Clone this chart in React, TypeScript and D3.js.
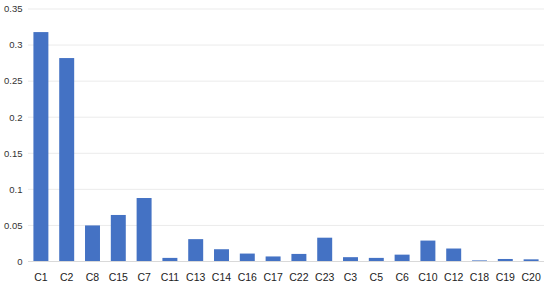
import React from 'react';
import * as d3 from 'd3';

const categories = ['C1', 'C2', 'C8', 'C15', 'C7', 'C11', 'C13', 'C14', 'C16', 'C17',
  'C22', 'C23', 'C3', 'C5', 'C6', 'C10', 'C12', 'C18', 'C19', 'C20'];
const values = [0.318, 0.282, 0.05, 0.0645, 0.088, 0.005, 0.031, 0.017, 0.011, 0.007,
  0.0105, 0.033, 0.006, 0.005, 0.0095, 0.029, 0.018, 0.0015, 0.0035, 0.003];
const yTicks = [0, 0.05, 0.1, 0.15, 0.2, 0.25, 0.3, 0.35];
const yTickLabels = ['0', '0.05', '0.1', '0.15', '0.2', '0.25', '0.3', '0.35'];

const W = 550;
const H = 286;
const margin = { top: 9, right: 6, bottom: 24.5, left: 28 };

const App = () => {
  const svgRef = React.useRef<SVGSVGElement>(null);

  React.useEffect(() => {
    const svg = d3.select(svgRef.current);
    svg.selectAll('*').remove();

    const x = d3.scaleBand()
      .domain(categories)
      .range([margin.left, W - margin.right])
      .paddingInner(0.42)
      .paddingOuter(0.21);

    const y = d3.scaleLinear()
      .domain([0, 0.35])
      .range([H - margin.bottom, margin.top]);

    // gridlines
    svg.append('g')
      .selectAll('line')
      .data(yTicks.slice(1))
      .enter()
      .append('line')
      .attr('x1', margin.left)
      .attr('x2', W - margin.right)
      .attr('y1', (d) => y(d))
      .attr('y2', (d) => y(d))
      .attr('stroke', '#ebebeb')
      .attr('stroke-width', 1);

    // y labels
    svg.append('g')
      .selectAll('text')
      .data(yTicks)
      .enter()
      .append('text')
      .attr('x', 22.5)
      .attr('y', (d) => y(d))
      .attr('dy', '0.35em')
      .attr('text-anchor', 'end')
      .attr('font-size', 9.5)
      .attr('fill', '#333')
      .text((d, i) => yTickLabels[i]);

    // bars
    svg.append('g')
      .selectAll('rect')
      .data(values)
      .enter()
      .append('rect')
      .attr('x', (d, i) => x(categories[i]) as number)
      .attr('y', (d) => y(d))
      .attr('width', x.bandwidth())
      .attr('height', (d) => y(0) - y(d))
      .attr('fill', '#4472c4');

    // baseline
    svg.append('line')
      .attr('x1', margin.left)
      .attr('x2', W - margin.right)
      .attr('y1', y(0))
      .attr('y2', y(0))
      .attr('stroke', '#d9d9d9')
      .attr('stroke-width', 1);

    // x labels
    svg.append('g')
      .selectAll('text')
      .data(categories)
      .enter()
      .append('text')
      .attr('x', (d) => (x(d) as number) + x.bandwidth() / 2)
      .attr('y', 280.5)
      .attr('text-anchor', 'middle')
      .attr('font-size', 10.5)
      .attr('fill', '#222')
      .text((d) => d);
  }, []);

  return (
    <svg
      ref={svgRef}
      width={W}
      height={H}
      style={{ position: 'absolute', left: 0, top: 0, fontFamily: '"Liberation Sans", Arial, sans-serif', background: '#fff' }}
    />
  );
};

export default App;
